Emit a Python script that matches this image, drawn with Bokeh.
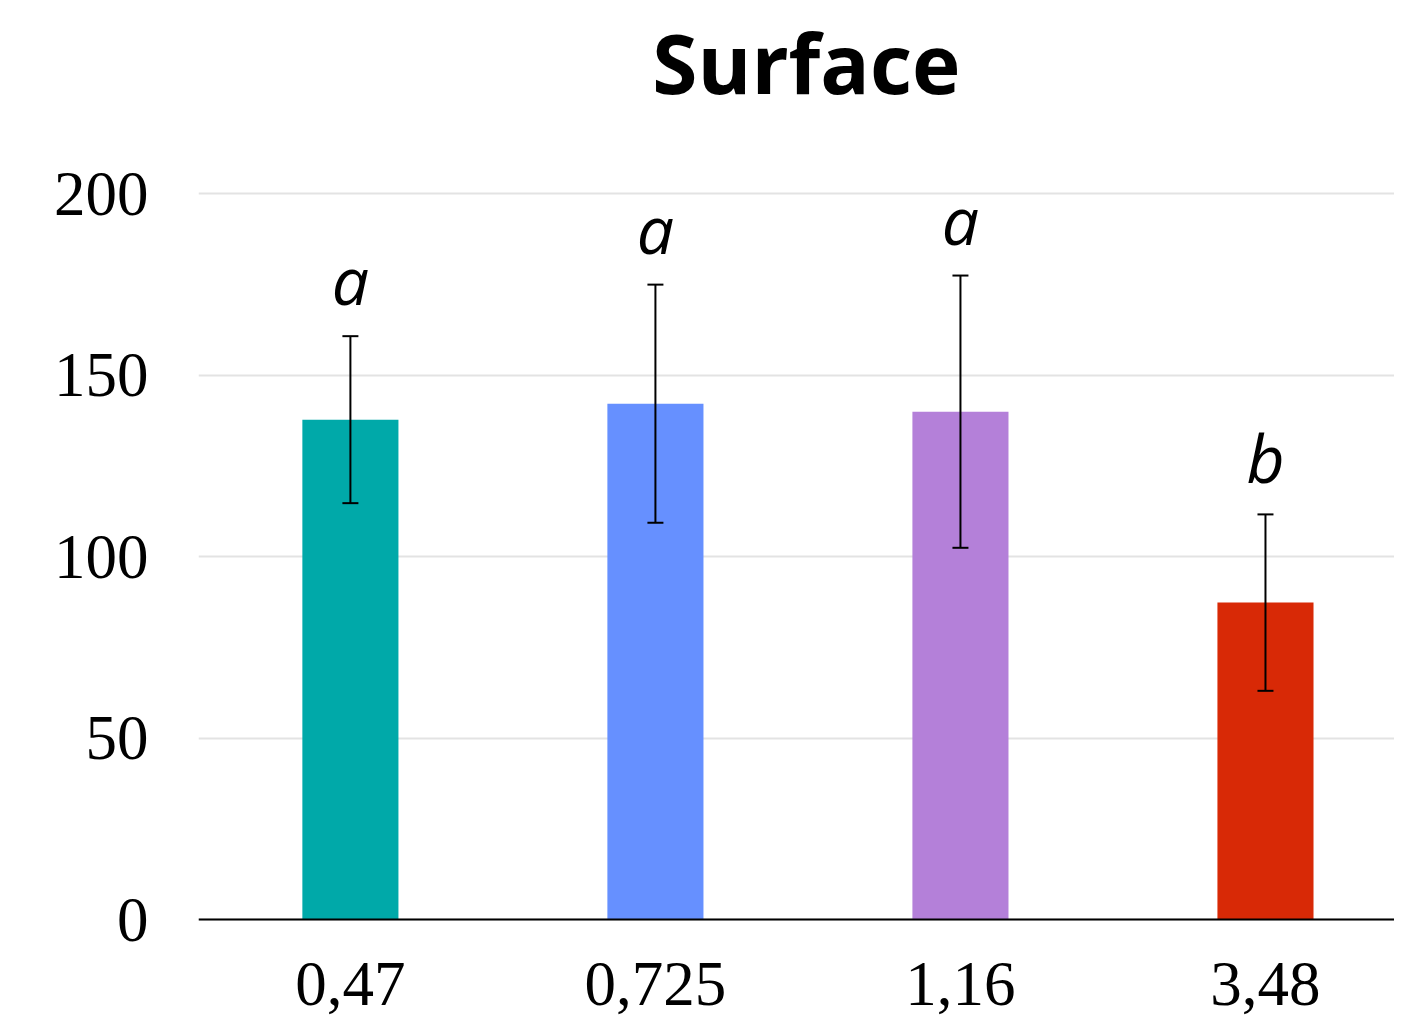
from bokeh.plotting import figure
from bokeh.models import (ColumnDataSource, Whisker, FixedTicker, TeeHead,
                          Range1d, LabelSet, Label)
from bokeh.core.properties import value
from bokeh.embed import file_html
from bokeh.resources import INLINE

# ---- data ----
categories = ["0,47", "0,725", "1,16", "3,48"]
means = [137.7, 142.1, 139.9, 87.3]
errors = [23.0, 32.8, 37.5, 24.3]
letters = ["a", "a", "a", "b"]
colors = ["#00A9A9", "#6690FF", "#B480D9", "#D82906"]
y_ticks = [0, 50, 100, 150, 200]
title_text = "Surface"

idx = list(range(len(categories)))
src = ColumnDataSource(dict(
    x=idx,
    top=means,
    upper=[m + e for m, e in zip(means, errors)],
    lower=[m - e for m, e in zip(means, errors)],
    letter=letters,
    color=colors,
))

p = figure(width=1394, height=1020, output_backend="svg", toolbar_location=None,
           x_range=Range1d(-0.498, 3.423), y_range=Range1d(-27.82, 253.17),
           min_border_left=198, min_border_right=0, min_border_top=0,
           min_border_bottom=0)
p.outline_line_color = None
p.background_fill_color = "white"
p.border_fill_color = "white"

p.vbar(x="x", top="top", bottom=0, width=0.315, fill_color="color",
       line_color=None, source=src)

w = Whisker(base="x", upper="upper", lower="lower", source=src,
            line_color="black", line_width=2, level="annotation",
            upper_head=TeeHead(size=16, line_color="black", line_width=2),
            lower_head=TeeHead(size=16, line_color="black", line_width=2))
p.add_layout(w)

labels = LabelSet(x="x", y="upper", text="letter", source=src, y_offset=31,
                  text_align="center", text_baseline="alphabetic",
                  text_font=value("Open Sans"), text_font_style="italic",
                  text_font_size="66px", text_color="black")
p.add_layout(labels)

title = Label(x=1.495, y=236.3, text=title_text, text_align="center",
              text_baseline="alphabetic", text_font="Open Sans",
              text_font_style="bold", text_font_size="82px",
              text_color="black")
p.add_layout(title)

# axes
p.xaxis.fixed_location = 0
p.xaxis.ticker = FixedTicker(ticks=idx)
p.xaxis.major_label_overrides = {i: c for i, c in zip(idx, categories)}
p.xaxis.axis_line_color = "black"
p.xaxis.axis_line_width = 2
p.xaxis.major_tick_line_color = None
p.xaxis.minor_tick_line_color = None
p.xaxis.major_label_text_font = "Liberation Serif"
p.xaxis.major_label_text_font_size = "63px"
p.xaxis.major_label_text_color = "black"
p.xaxis.major_label_standoff = 37

p.yaxis.ticker = FixedTicker(ticks=y_ticks)
p.yaxis.axis_line_color = None
p.yaxis.major_tick_line_color = None
p.yaxis.minor_tick_line_color = None
p.yaxis.major_label_text_font = "Liberation Serif"
p.yaxis.major_label_text_font_size = "63px"
p.yaxis.major_label_text_color = "black"
p.yaxis.major_label_standoff = 44

p.xgrid.grid_line_color = None
p.ygrid.grid_line_color = "#E3E3E3"
p.ygrid.grid_line_width = 2

open("out.html", "w").write(file_html(p, INLINE))
